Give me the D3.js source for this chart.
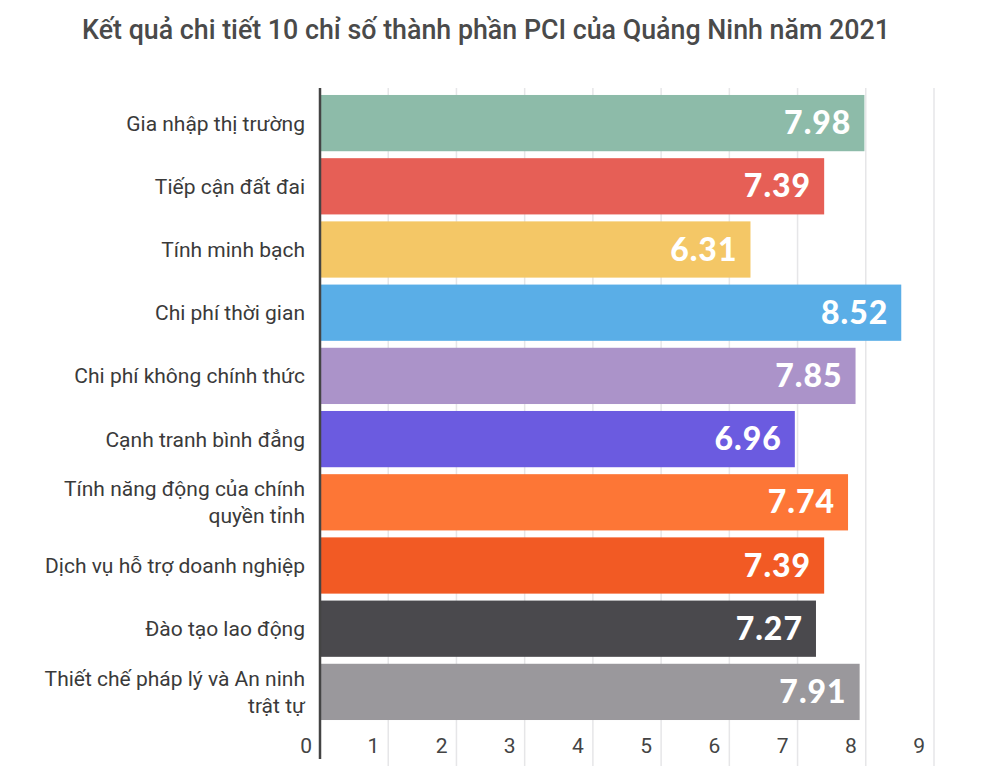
<!DOCTYPE html>
<html>
<head>
<meta charset="utf-8">
<script src="https://cdn.jsdelivr.net/npm/d3@7"></script>
<style>
  body { margin: 0; background: #fff; }
  svg { display: block; }
</style>
</head>
<body>
<svg id="chart"></svg>
<script>
// Chart data
const categories = [
  'Gia nhập thị trường',
  'Tiếp cận đất đai',
  'Tính minh bạch',
  'Chi phí thời gian',
  'Chi phí không chính thức',
  'Cạnh tranh bình đẳng',
  'Tính năng động của chính quyền tỉnh',
  'Dịch vụ hỗ trợ doanh nghiệp',
  'Đào tạo lao động',
  'Thiết chế pháp lý và An ninh trật tự'
];
const values = [7.98, 7.39, 6.31, 8.52, 7.85, 6.96, 7.74, 7.39, 7.27, 7.91];
const barColors = ['#8dbba9', '#e65f56', '#f4c766', '#5aaee7', '#ab93c9',
                   '#6b5be0', '#fd7636', '#f25a24', '#4a494d', '#9a989c'];
const tickValues = [0, 1, 2, 3, 4, 5, 6, 7, 8, 9];
// long labels are broken into two lines like the original
const labelLines = {
  'Tính năng động của chính quyền tỉnh': ['Tính năng động của chính', 'quyền tỉnh'],
  'Thiết chế pháp lý và An ninh trật tự': ['Thiết chế pháp lý và An ninh', 'trật tự']
};

const width = 1000;
const height = 784;

let svg = d3.select('#chart')
    .attr('width', width)
    .attr('height', height);

// Title
svg.append('text')
    .attr('x', 486)
    .attr('y', 39)
    .attr('text-anchor', 'middle')
    .style('font-family', 'Roboto')
    .style('font-weight', 500)
    .style('font-size', '26.8px')
    .style('fill', '#4a4a4a')
    .text('Kết quả chi tiết 10 chỉ số thành phần PCI của Quảng Ninh năm 2021');

// Scales
let x = d3.scaleLinear()
    .domain([0, 9])
    .range([320, 934]);

let y = d3.scaleBand()
    .domain(categories)
    .range([91.5, 723.5])
    .paddingInner(0.11)
    .paddingOuter(0.055);

// Gridlines
svg.append('g')
    .selectAll('line')
    .data(tickValues.slice(1))
    .join('line')
    .attr('x1', d => x(d))
    .attr('x2', d => x(d))
    .attr('y1', 88)
    .attr('y2', 766)
    .attr('stroke', '#e6e6e8')
    .attr('stroke-width', 1.5);

// Bars
svg.append('g')
    .selectAll('rect')
    .data(values)
    .join('rect')
    .attr('x', x(0))
    .attr('y', (d, i) => y(categories[i]))
    .attr('width', d => x(d) - x(0))
    .attr('height', y.bandwidth())
    .attr('fill', (d, i) => barColors[i]);

// Value labels inside the bars
svg.append('g')
    .selectAll('text')
    .data(values)
    .join('text')
    .attr('x', d => x(d) - 13)
    .attr('y', (d, i) => y(categories[i]) + y.bandwidth() / 2 + 11)
    .attr('text-anchor', 'end')
    .style('font-family', 'Lato')
    .style('font-weight', 900)
    .style('font-size', '32px')
    .style('letter-spacing', '1px')
    .style('fill', '#fff')
    .text(d => d.toFixed(2));

// Category labels
let labels = svg.append('g')
    .selectAll('text')
    .data(categories)
    .join('text')
    .attr('text-anchor', 'end')
    .style('font-family', 'Roboto')
    .style('font-size', '21px')
    .style('fill', '#3a3a3a');

labels.each(function(d) {
  let lines = labelLines[d] || [d];
  let cy = y(d) + y.bandwidth() / 2;
  let startY = cy + 7.5 - (lines.length - 1) * 13.5;
  d3.select(this).selectAll('tspan')
    .data(lines)
    .join('tspan')
    .attr('x', 305)
    .attr('y', (l, i) => startY + i * 27)
    .text(l => l);
});

// X axis tick labels (placed left of each gridline)
svg.append('g')
    .selectAll('text')
    .data(tickValues)
    .join('text')
    .attr('x', d => d === 0 ? x(d) - 8 : x(d) - 9)
    .attr('y', 753)
    .attr('text-anchor', 'end')
    .style('font-family', 'Roboto')
    .style('font-size', '21px')
    .style('fill', '#444')
    .text(d => d);

// Y axis line
svg.append('line')
    .attr('x1', x(0))
    .attr('x2', x(0))
    .attr('y1', 88)
    .attr('y2', 759)
    .attr('stroke', '#444')
    .attr('stroke-width', 2.5);
</script>
</body>
</html>
